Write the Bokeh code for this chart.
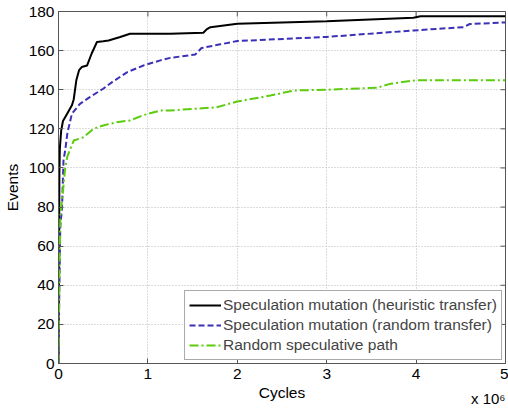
import math
from bokeh.plotting import figure
from bokeh.models import Title, Legend, LegendItem, FixedTicker, Range1d
from bokeh.embed import file_html
from bokeh.resources import INLINE

# Cycles in units of 10^6
heur_x = [0, 0.005, 0.01, 0.015, 0.03, 0.05, 0.1, 0.15, 0.17, 0.2, 0.23, 0.26, 0.32, 0.37, 0.43, 0.5,
          0.56, 0.69, 0.8, 1.03, 1.25, 1.62, 1.66, 1.70, 2.0, 3.0, 3.97, 4.05, 5.0]
heur_y = [0, 40, 97, 110, 119, 124, 128, 132, 135, 145, 150, 151.6, 152.4, 158.4, 164.4, 164.8,
          165.2, 167, 168.6, 168.6, 168.6, 169.1, 171, 172, 173.7, 175, 176.8, 177.6, 177.6]

rand_x = [0, 0.01, 0.02, 0.04, 0.056, 0.075, 0.1, 0.15, 0.24, 0.35, 0.5, 0.6, 0.77, 0.95, 1.14, 1.25,
          1.53, 1.6, 1.81, 2.0, 3.0, 3.97, 4.53, 4.6, 5.0]
rand_y = [0, 40, 70, 80, 104, 109, 118, 127.7, 132.8, 136.2, 140.5, 143.9, 149, 152.4, 155, 156.3,
          158, 161.3, 163.2, 164.9, 167, 170.3, 172, 173.6, 174.4]

path_x = [0, 0.01, 0.02, 0.05, 0.075, 0.1, 0.17, 0.28, 0.39, 0.5, 0.65, 0.8, 0.95, 1.14, 1.25, 1.77,
          2.0, 2.37, 2.63, 3.0, 3.56, 3.71, 3.99, 5.0]
path_y = [0, 45, 75, 88, 100, 106, 114, 115.7, 120, 121.7, 123.4, 124.3, 127, 129.4, 129.4, 131,
          134, 137, 139.6, 140, 141, 143, 144.8, 144.8]

x_ticks = [0, 1, 2, 3, 4, 5]
y_ticks = [0, 20, 40, 60, 80, 100, 120, 140, 160, 180]

labels = ["Speculation mutation (heuristic transfer)",
          "Speculation mutation (random transfer)",
          "Random speculative path"]
x_scale_label = "x 10\u2076"

FONT = "Liberation Sans"
FS = "15.5px"
AX = "#555555"

x_lo, x_hi = x_ticks[0], x_ticks[-1]
y_lo, y_hi = y_ticks[0], y_ticks[-1]

p = figure(width=508, height=410, output_backend="svg", toolbar_location=None,
           x_range=Range1d(x_lo, x_hi), y_range=Range1d(y_lo, y_hi),
           min_border_left=58, min_border_right=3, min_border_top=11, min_border_bottom=47)
p.outline_line_color = AX
p.outline_line_width = 1

p.xgrid.ticker = FixedTicker(ticks=x_ticks)
p.ygrid.ticker = FixedTicker(ticks=y_ticks)
p.grid.grid_line_color = "#b8b8b8"
p.grid.grid_line_dash = "1 2"
p.grid.grid_line_width = 1

# inward tick marks on the top and right edges of the box (half of each dash is clipped)
p.scatter(x_ticks, [y_hi] * len(x_ticks), marker="dash", angle=math.pi / 2, size=10,
          line_color=AX, line_width=1)
p.scatter([x_hi] * len(y_ticks), y_ticks, marker="dash", size=10, line_color=AX, line_width=1)

r1 = p.line(heur_x, heur_y, line_color="black", line_width=2)
r2 = p.line(rand_x, rand_y, line_color="#3b30b8", line_width=2, line_dash="6 3")
r3 = p.line(path_x, path_y, line_color="#5ccc0c", line_width=2, line_dash="9 3 2 3")

for ax in p.xaxis + p.yaxis:
    ax.major_tick_in = 5
    ax.major_tick_out = 0
    ax.minor_tick_in = 0
    ax.minor_tick_out = 0
    ax.axis_line_color = AX
    ax.major_tick_line_color = AX
    ax.major_label_text_font = FONT
    ax.major_label_text_font_size = FS
    ax.major_label_text_color = "black"
    ax.axis_label_text_font = FONT
    ax.axis_label_text_font_size = FS
    ax.axis_label_text_font_style = "normal"
    ax.axis_label_text_color = "black"

p.xaxis.ticker = FixedTicker(ticks=x_ticks)
p.yaxis.ticker = FixedTicker(ticks=y_ticks)
p.xaxis.axis_label = "Cycles"
p.yaxis.axis_label = "Events"
p.xaxis.major_label_standoff = 5
p.yaxis.major_label_standoff = 4
p.xaxis.axis_label_standoff = 2
p.yaxis.axis_label_standoff = 5

legend = Legend(items=[LegendItem(label=labels[0], renderers=[r1]),
                       LegendItem(label=labels[1], renderers=[r2]),
                       LegendItem(label=labels[2], renderers=[r3])],
                location="bottom_right", margin=3, padding=4, spacing=0,
                glyph_width=32, glyph_height=20, label_standoff=2, label_height=20,
                label_text_font=FONT, label_text_font_size=FS,
                border_line_color=AX, border_line_width=1,
                background_fill_color="white", background_fill_alpha=1)
p.add_layout(legend, "center")

# scale factor label under the right end of the x axis
p.add_layout(Title(text=x_scale_label, align="right", vertical_align="top", offset=0,
                   standoff=-28, text_font=FONT, text_font_size="15px",
                   text_font_style="normal", text_color="black"), "below")

open("out.html", "w").write(file_html(p, INLINE))
